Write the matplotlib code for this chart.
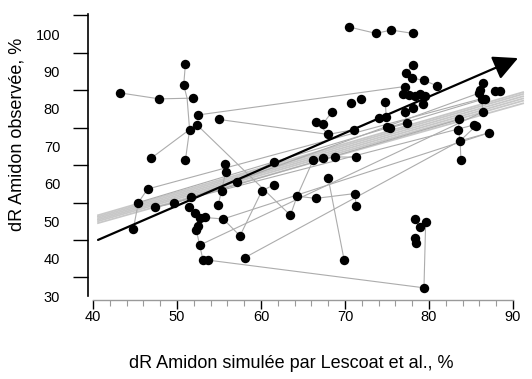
import matplotlib
matplotlib.use("Agg")
import matplotlib.pyplot as plt

plt.rcParams['font.family'] = ['Liberation Sans', 'DejaVu Sans']

# black dots (simulated %, observed %)
dots_x = [43.2, 47.9, 51.9, 51.0, 50.8, 51.5, 52.5, 52.4, 55.0, 46.9, 51.0,
          55.7, 55.8, 61.5, 57.1, 55.3, 61.5, 60.1, 46.5, 45.4, 47.4, 49.6,
          51.7, 51.4, 52.1, 54.9, 52.7, 53.3, 55.5, 44.8, 52.5, 52.3, 57.5,
          52.7, 53.1, 53.7, 58.1, 63.5,
          66.2, 67.4, 68.8, 71.3, 68.0, 64.3, 66.5, 71.2, 71.3, 69.9,
          66.6, 67.4, 68.4, 70.7, 71.9, 74.8, 68.0, 71.1, 74.0, 74.9, 75.0, 75.4,
          78.1, 77.3, 78.0, 79.4, 80.9, 77.1, 76.9, 77.6, 78.3, 78.9, 79.5,
          79.3, 78.1, 77.1, 77.4,
          70.5, 73.7, 75.5, 78.1,
          86.4, 86.1, 85.9, 87.9, 88.5, 86.3, 86.7, 86.4, 83.6, 85.3, 85.6,
          83.5, 87.1, 83.7, 83.8,
          78.3, 79.6, 78.9, 78.3, 78.4, 79.4]
dots_y = [84.3, 82.7, 82.9, 92.0, 86.4, 74.5, 78.4, 75.7, 77.2, 66.8, 66.3,
          65.2, 63.2, 65.9, 60.5, 58.1, 59.7, 58.1, 58.6, 55.0, 53.7, 54.8,
          56.4, 53.9, 52.3, 54.3, 50.8, 51.0, 50.6, 47.9, 48.7, 47.6, 46.1,
          43.6, 39.6, 39.6, 40.3, 51.6,
          66.3, 66.8, 67.2, 67.1, 61.5, 56.7, 56.1, 57.4, 54.0, 39.6,
          76.6, 76.1, 79.1, 81.7, 82.8, 81.9, 73.2, 74.5, 77.5, 77.9, 75.2, 75.0,
          91.7, 89.7, 88.2, 87.7, 86.2, 86.0, 84.0, 83.8, 83.6, 84.0, 83.6,
          81.2, 80.3, 79.1, 76.2,
          101.9, 100.2, 101.1, 100.2,
          87.0, 85.0, 84.2, 84.8, 84.9, 82.8, 82.8, 79.2, 77.2, 75.7, 75.5,
          74.4, 73.6, 71.5, 66.3,
          50.5, 49.7, 48.5, 45.4, 44.1, 32.2]

# grey links between dots of the same experiment
links = [
    ([43.2, 47.9, 51.9], [84.3, 82.7, 82.9]),
    ([51.0, 50.8, 51.2, 51.5, 51.0], [92.0, 86.4, 82.9, 74.5, 66.3]),
    ([46.9, 51.5, 52.4, 63.5], [66.8, 74.5, 75.7, 51.6]),
    ([52.5, 77.1], [78.4, 86.0]),
    ([55.0, 68.0], [77.2, 73.2]),
    ([46.5, 86.3], [58.6, 82.8]),
    ([44.8, 45.4, 46.5], [47.9, 55.0, 58.6]),
    ([47.4, 49.6, 51.7], [53.7, 54.8, 56.4]),
    ([51.7, 85.9], [56.4, 84.2]),
    ([49.6, 83.6], [54.8, 77.2]),
    ([51.4, 52.1, 52.7, 52.5, 52.3, 52.7, 53.1, 53.7],
     [53.9, 52.3, 50.8, 48.7, 47.6, 43.6, 39.6, 39.6]),
    ([53.7, 79.4, 79.6], [39.6, 32.2, 49.7]),
    ([52.7, 86.4], [43.6, 79.2]),
    ([58.1, 83.7], [40.3, 71.5]),
    ([53.3, 55.5, 57.5, 60.1, 61.5], [51.0, 50.6, 46.1, 58.1, 59.7]),
    ([54.9, 55.3, 55.8, 55.7], [54.3, 58.1, 63.2, 65.2]),
    ([57.1, 61.5], [60.5, 65.9]),
    ([63.5, 64.3, 66.2, 67.4, 68.8, 71.3], [51.6, 56.7, 66.3, 66.8, 67.2, 67.1]),
    ([64.3, 66.5, 71.2, 71.3], [56.7, 56.1, 57.4, 54.0]),
    ([68.0, 69.9], [61.5, 39.6]),
    ([66.6, 67.4, 68.4], [76.6, 76.1, 79.1]),
    ([66.6, 68.0, 71.1, 74.0, 74.9], [76.6, 73.2, 74.5, 77.5, 77.9]),
    ([75.0, 75.4, 77.4], [75.2, 75.0, 76.2]),
    ([74.8, 74.9], [81.9, 77.9]),
    ([70.5, 73.7, 75.5, 78.1], [101.9, 100.2, 101.1, 100.2]),
    ([78.1, 77.3, 78.0, 79.4, 80.9], [91.7, 89.7, 88.2, 87.7, 86.2]),
    ([77.1, 76.9, 77.6, 78.3, 78.9, 79.5, 79.3, 78.1, 77.1, 77.4],
     [86.0, 84.0, 83.8, 83.6, 84.0, 83.6, 81.2, 80.3, 79.1, 76.2]),
    ([86.4, 86.1, 85.9, 86.3, 86.4], [87.0, 85.0, 84.2, 82.8, 79.2]),
    ([83.6, 83.5, 83.7, 83.8], [77.2, 74.4, 71.5, 66.3]),
    ([85.6, 83.7, 87.1], [75.5, 71.5, 73.6]),
    ([78.3, 78.9, 79.6], [50.5, 48.5, 49.7]),
    ([78.4, 78.3], [44.1, 45.4]),
    ([47.4, 85.3], [53.7, 75.7]),
    ([55.5, 87.1], [50.6, 73.6]),
    ([45.4, 86.7], [55.0, 82.8]),
]

# fitted lines (grey band)
fit_x = [40.6, 91.2]
fit_y0 = [49.5, 50.0, 50.4, 50.8, 51.2, 51.6]
fit_y1 = [81.5, 82.2, 82.8, 83.4, 84.0, 84.5]

# y = x style arrow
arrow_start = (40.6, 45.0)
arrow_end = (90.6, 93.6)

fig = plt.figure(figsize=(5.32, 3.79), dpi=100)
ax = fig.add_axes([0.159, 0.209, 0.829, 0.770])

for a, b in zip(fit_y0, fit_y1):
    ax.plot(fit_x, [a, b], color='#c8c8c8', lw=1.3, zorder=1)

for lx, ly in links:
    ax.plot(lx, ly, color='#acacac', lw=0.8, zorder=2)

ax.annotate('', xy=arrow_end, xytext=arrow_start,
            arrowprops=dict(arrowstyle='-|>,head_length=1.0,head_width=0.5',
                            mutation_scale=15, color='black', lw=1.6,
                            shrinkA=0, shrinkB=0), zorder=3)

ax.scatter(dots_x, dots_y, s=46, color='black', zorder=4, linewidths=0)

ax.set_xlim(39.0, 91.5)
ax.set_ylim(29.0, 107.0)

for s in ['top', 'right']:
    ax.spines[s].set_visible(False)
ax.spines['left'].set_position(('data', 39.4))
ax.spines['left'].set_bounds(30, 105.3)
ax.spines['left'].set_linewidth(1.2)
ax.spines['bottom'].set_bounds(40, 90)
ax.spines['bottom'].set_color('#9a9a9a')
ax.spines['bottom'].set_linewidth(1.0)

ax.set_yticks(range(30, 101, 10))
ax.set_yticks(range(35, 106, 10), minor=True)
ax.tick_params(axis='y', which='major', length=0, pad=20, labelsize=10.5)
ax.tick_params(axis='y', which='minor', length=11, width=1.0, direction='out')

ax.set_xticks([40, 50, 60, 70, 80, 90])
ax.set_xticks(range(42, 90, 2), minor=True)
ax.tick_params(axis='x', which='major', length=6.5, width=1.0, pad=1,
               labelsize=10.5, colors='black')
ax.tick_params(axis='x', which='minor', length=4, width=0.8, color='#9a9a9a')
for t in ax.xaxis.get_major_ticks()[1:-1]:
    t.tick1line.set_color('#9a9a9a')

ax.set_xlabel('dR Amidon simulée par Lescoat et al., %', fontsize=13)
ax.xaxis.set_label_coords(0.468, -0.19)
ax.set_ylabel('dR Amidon observée, %', fontsize=13)
ax.yaxis.set_label_coords(-0.135, 0.568)

fig.savefig('out.png', dpi=100)
